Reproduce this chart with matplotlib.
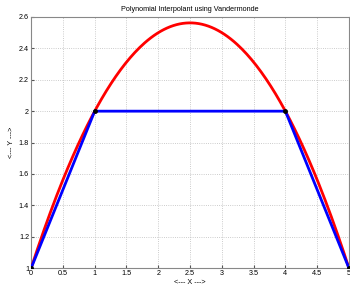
import numpy as np
import matplotlib
matplotlib.use("Agg")
import matplotlib.pyplot as plt

plt.rcParams['font.family'] = ['Liberation Sans', 'DejaVu Sans']

# data points
x_pts = [0, 1, 4, 5]
y_pts = [1, 2, 2, 1]
x_ticks = [0, 0.5, 1, 1.5, 2, 2.5, 3, 3.5, 4, 4.5, 5]
y_ticks = [1, 1.2, 1.4, 1.6, 1.8, 2, 2.2, 2.4, 2.6]

# Vandermonde interpolant
V = np.vander(np.array(x_pts, float), len(x_pts))
coef = np.linalg.solve(V, np.array(y_pts, float))
xs = np.linspace(min(x_pts), max(x_pts), 200)
ys = np.polyval(coef, xs)

fig = plt.figure(figsize=(3.5, 2.88), dpi=100)
ax = fig.add_axes([0.089, 0.069, 0.908, 0.872])
ax.plot(xs, ys, color='#ff0000', lw=2, zorder=3)
ax.plot(x_pts, y_pts, color='#0000ff', lw=2, zorder=4)
ax.plot(x_pts, y_pts, 'o', color='black', ms=2.5, zorder=5)
ax.set_xlim(0, 5)
ax.set_ylim(1, 2.6)
ax.set_xticks(x_ticks)
ax.set_xticklabels([f"{t:g}" for t in x_ticks])
ax.set_yticks(y_ticks)
ax.set_yticklabels([f"{t:g}" for t in y_ticks])
ax.tick_params(direction='in', length=2, labelsize=5.2, colors='#555555', labelcolor='black', pad=1.5)
for s in ax.spines.values():
    s.set_color('#888888')
    s.set_linewidth(0.8)
ax.grid(True, linestyle=':', color='#bbbbbb', linewidth=0.6)
ax.set_title('Polynomial Interpolant using Vandermonde', fontsize=5.2, pad=4)
ax.set_xlabel('<--- X --->', fontsize=5.2, labelpad=1)
ax.set_ylabel('<--- Y --->', fontsize=5.2, labelpad=3)
fig.savefig('out.png', dpi=100)
